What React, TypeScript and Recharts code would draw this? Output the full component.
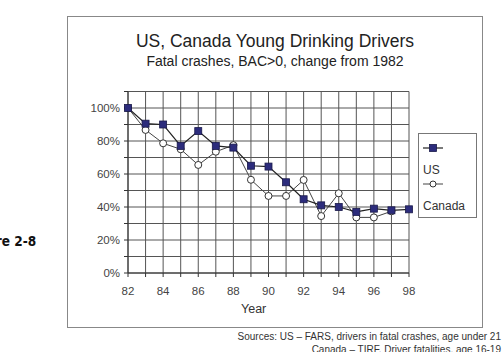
import React from "react";
import {
  LineChart,
  Line,
  XAxis,
  YAxis,
  CartesianGrid,
} from "recharts";

// change in fatal crashes relative to 1982 (1.0 = 1982 level)
const years = [82, 83, 84, 85, 86, 87, 88, 89, 90, 91, 92, 93, 94, 95, 96, 97, 98];
const usValues = [1.0, 0.905, 0.9, 0.77, 0.86, 0.77, 0.76, 0.65, 0.645, 0.55, 0.447, 0.41, 0.4, 0.37, 0.39, 0.38, 0.386];
const canadaValues = [1.0, 0.867, 0.786, 0.75, 0.655, 0.735, 0.775, 0.565, 0.467, 0.467, 0.564, 0.345, 0.483, 0.337, 0.337, 0.374, null];

const xTicks = years;
const yTicks = [0, 0.1, 0.2, 0.3, 0.4, 0.5, 0.6, 0.7, 0.8, 0.9, 1.0, 1.1];

const data = years.map((y, i) => ({
  year: y,
  us: usValues[i],
  canada: canadaValues[i],
}));

const FONT = "'Liberation Sans', Arial, sans-serif";
const NAVY = "#2c2c7c";

const SquareDot = (props: any) => {
  const { cx, cy } = props;
  if (cx == null || cy == null) return null;
  return <rect x={cx - 3.5} y={cy - 3.5} width={7} height={7} fill={NAVY} stroke="#1a1a4a" strokeWidth={0.8} />;
};

const CircleDot = (props: any) => {
  const { cx, cy, value } = props;
  if (cx == null || cy == null || value == null) return null;
  return <circle cx={cx} cy={cy} r={3.5} fill="#fff" stroke="#333" strokeWidth={1} />;
};

export default function App() {
  return (
    <div
      style={{
        position: "fixed",
        left: 0,
        top: 0,
        width: 504,
        height: 352,
        background: "#fff",
        fontFamily: FONT,
        overflow: "hidden",
      }}
    >
      {/* chart frame */}
      <div
        style={{
          position: "absolute",
          left: 67,
          top: 16,
          width: 414,
          height: 310,
          border: "1px solid #888",
        }}
      />

      <div style={{ position: "absolute", left: 67, width: 416, top: 31, textAlign: "center", fontSize: 17.5, color: "#222" }}>
        US, Canada Young Drinking Drivers
      </div>
      <div style={{ position: "absolute", left: 67, width: 416, top: 53, textAlign: "center", fontSize: 14, color: "#222" }}>
        Fatal crashes, BAC&gt;0, change from 1982
      </div>

      <div style={{ position: "absolute", left: 0, top: 0 }}>
        <LineChart
          width={504}
          height={352}
          data={data}
          margin={{ top: 91.5, right: 95, bottom: 49, left: 78 }}
        >
          <CartesianGrid stroke="#555" strokeWidth={1} fill="#fff" />
          <XAxis
            dataKey="year"
            type="number"
            domain={[82, 98]}
            ticks={xTicks}
            interval={0}
            tickFormatter={(v: number) => (v % 2 === 0 ? String(v) : "")}
            height={30}
            tickSize={4}
            tickMargin={10}
            stroke="#333"
            tick={{ fill: "#444", fontSize: 11.5, fontFamily: FONT }}
          />
          <YAxis
            type="number"
            domain={[0, 1.1]}
            ticks={yTicks}
            interval={0}
            tickFormatter={(v: number) => {
              const p = Math.round(v * 100);
              return p % 20 === 0 && p <= 100 ? `${p}%` : "";
            }}
            width={50}
            tickSize={4}
            tickMargin={4}
            stroke="#333"
            tick={{ fill: "#444", fontSize: 11.5, fontFamily: FONT }}
          />
          <Line
            dataKey="canada"
            stroke="#444"
            strokeWidth={1}
            dot={<CircleDot />}
            isAnimationActive={false}
            connectNulls={false}
          />
          <Line
            dataKey="us"
            stroke="#222"
            strokeWidth={1.2}
            dot={<SquareDot />}
            isAnimationActive={false}
          />
        </LineChart>
      </div>

      <div style={{ position: "absolute", left: 241, top: 302, fontSize: 12.5, color: "#333" }}>Year</div>

      {/* legend */}
      <div
        style={{
          position: "absolute",
          left: 418,
          top: 133,
          width: 57,
          height: 83,
          border: "1px solid #777",
          background: "#fff",
        }}
      >
        <svg width={57} height={83} style={{ position: "absolute", left: 0, top: 0 }}>
          <line x1={4} x2={24} y1={14} y2={14} stroke="#222" strokeWidth={1.2} />
          <rect x={10.5} y={10.5} width={7} height={7} fill={NAVY} stroke="#1a1a4a" strokeWidth={0.8} />
          <line x1={4} x2={24} y1={50} y2={50} stroke="#444" strokeWidth={1} />
          <circle cx={14} cy={50} r={3} fill="#fff" stroke="#333" />
          <text x={4} y={40} fontSize={12} fill="#333" fontFamily={FONT}>US</text>
          <text x={4} y={76} fontSize={12} fill="#333" fontFamily={FONT}>Canada</text>
        </svg>
      </div>

      {/* figure number, partly outside the left page edge */}
      <div
        style={{
          position: "absolute",
          left: -34,
          top: 233,
          fontSize: 13.5,
          fontWeight: "bold",
          color: "#111",
          fontFamily: "'DejaVu Sans Condensed', 'DejaVu Sans', sans-serif",
          fontStretch: "condensed",
          whiteSpace: "nowrap",
        }}
      >
        Figure 2-8
      </div>

      <div style={{ position: "absolute", right: 3, top: 331, fontSize: 10, color: "#333", textAlign: "right", lineHeight: "12.5px", whiteSpace: "nowrap" }}>
        Sources: US – FARS, drivers in fatal crashes, age under 21
        <br />
        Canada – TIRF, Driver fatalities, age 16-19
      </div>
    </div>
  );
}
